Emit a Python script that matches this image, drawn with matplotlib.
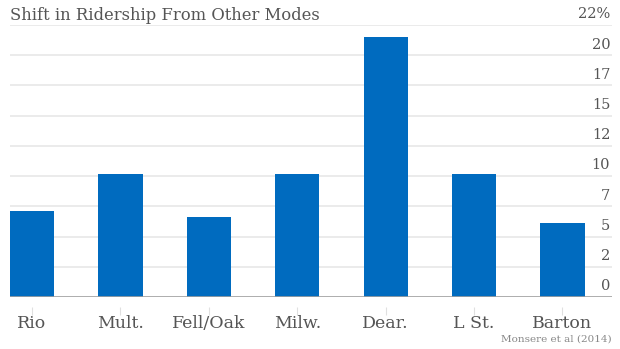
import matplotlib
matplotlib.use('Agg')
import matplotlib.pyplot as plt
import matplotlib.transforms as mtransforms
import numpy as np

plt.rcParams["font.family"] = 'DejaVu Serif'

# data
categories = ['Rio', 'Mult.', 'Fell/Oak', 'Milw.', 'Dear.', 'L St.', 'Barton']
shift = [7.15, 10.2, 6.6, 10.2, 21.5, 10.2, 6.1]
yticks = [0, 2.5, 5, 7.5, 10, 12.5, 15, 17.5, 20, 22.5]
ytick_labels = ['0', '2', '5', '7', '10', '12', '15', '17', '20', '22%']

title = 'Shift in Ridership From Other Modes'
source = 'Monsere et al (2014)'

text_color = '#555555'
bar_color = '#006bbf'

fig = plt.figure(figsize=(6.2, 3.49), dpi=100)
ax = fig.add_axes([10 / 620, 52 / 349, 602 / 620, 272 / 349])

x = np.arange(len(categories))
ax.bar(x, shift, width=0.5, color=bar_color, zorder=3)

ax.set_xlim(-0.25, 6.56)
ax.set_ylim(0, 22.5)

# horizontal grid + baseline
for v in yticks[1:]:
    ax.axhline(v, color='#e8e8e8', lw=1.2, zorder=1)
ax.axhline(0, color='#a0a0a0', lw=1.2, zorder=4)

# y labels sit just above their grid lines, right aligned
trans = mtransforms.blended_transform_factory(ax.transAxes, ax.transData)
for v, lab in zip(yticks, ytick_labels):
    ax.text(0.997, v + 0.3, lab, transform=trans, ha='right', va='bottom',
            fontsize=10.5, color=text_color)
ax.set_yticks([])

for s in ['top', 'right', 'left']:
    ax.spines[s].set_visible(False)
ax.spines['bottom'].set_position(('outward', 7))
ax.spines['bottom'].set_visible(False)

ax.set_xticks(x)
ax.set_xticklabels(categories, fontsize=12.5, color=text_color)
ax.tick_params(axis='x', length=6, width=0.8, color='#e0e0e0', pad=0)

fig.text(10 / 620, 1 - 15 / 349, title, ha='left', va='center',
         fontsize=11.8, color=text_color)
fig.text(612 / 620, 1 - 339 / 349, source, ha='right', va='center',
         fontsize=7.5, color='#888888')

plt.savefig('out.png', dpi=100)
